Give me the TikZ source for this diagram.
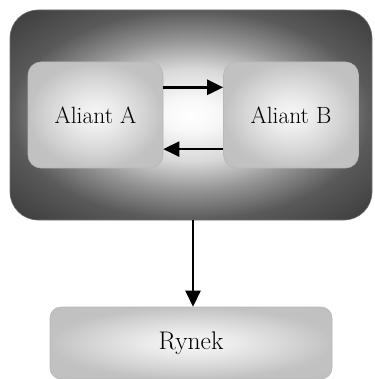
\documentclass[tikz,border=0pt]{standalone}
\usetikzlibrary{arrows.meta,calc}

% Soft glow shadings (path edge sits at 25bp, corners near 35bp)
\pgfdeclareradialshading{frameglow}{\pgfpoint{0bp}{0bp}}{%
  color(0bp)=(white);
  color(4bp)=(white!97!black);
  color(11bp)=(black!15);
  color(18bp)=(black!42);
  color(25bp)=(black!65);
  color(36bp)=(black!78);
  color(50bp)=(black!78)}
\pgfdeclareradialshading{boxglow}{\pgfpoint{0bp}{0bp}}{%
  color(0bp)=(white!97!black);
  color(8bp)=(white!92!black);
  color(18bp)=(black!17);
  color(25bp)=(black!24);
  color(50bp)=(black!26)}

\tikzset{
  frame/.style={shading=frameglow, rounded corners=28pt, draw=black!55,
    line width=0.6pt, inner sep=0pt},
  allybox/.style={shading=boxglow, rounded corners=13pt, draw=black!28,
    line width=0.6pt, inner sep=0pt, minimum width=135pt,
    minimum height=106pt, font=\fontsize{23.5}{28}\selectfont},
  marketbox/.style={shading=boxglow, rounded corners=11pt, draw=black!28,
    line width=0.6pt, inner sep=0pt, minimum width=282pt,
    minimum height=72pt, font=\fontsize{25.5}{30}\selectfont},
  arr/.style={line width=2.5pt, -{Triangle[length=16pt,width=15pt]}}
}

\begin{document}
\begin{tikzpicture}[x=1pt,y=-1pt]
  \useasboundingbox (0,0) rectangle (374,379);

  % outer frame holding both allies
  \node[frame, minimum width=362pt, minimum height=210pt] (outer) at (191,115) {};

  \node[allybox] (A) at (95.5,115) {Aliant A};
  \node[allybox] (B) at (291,115) {Aliant B};
  \node[marketbox] (market) at (191,343) {Rynek};

  % mutual links between the allies
  \draw[arr] ($(A.north east)!0.24!(A.south east)$) -- ($(B.north west)!0.24!(B.south west)$);
  \draw[arr] ($(B.north west)!0.82!(B.south west)$) -- ($(A.north east)!0.82!(A.south east)$);

  % link down to the market
  \coordinate (vx) at (193,0);
  \draw[arr] (outer.south -| vx) -- (market.north -| vx);
\end{tikzpicture}
\end{document}
